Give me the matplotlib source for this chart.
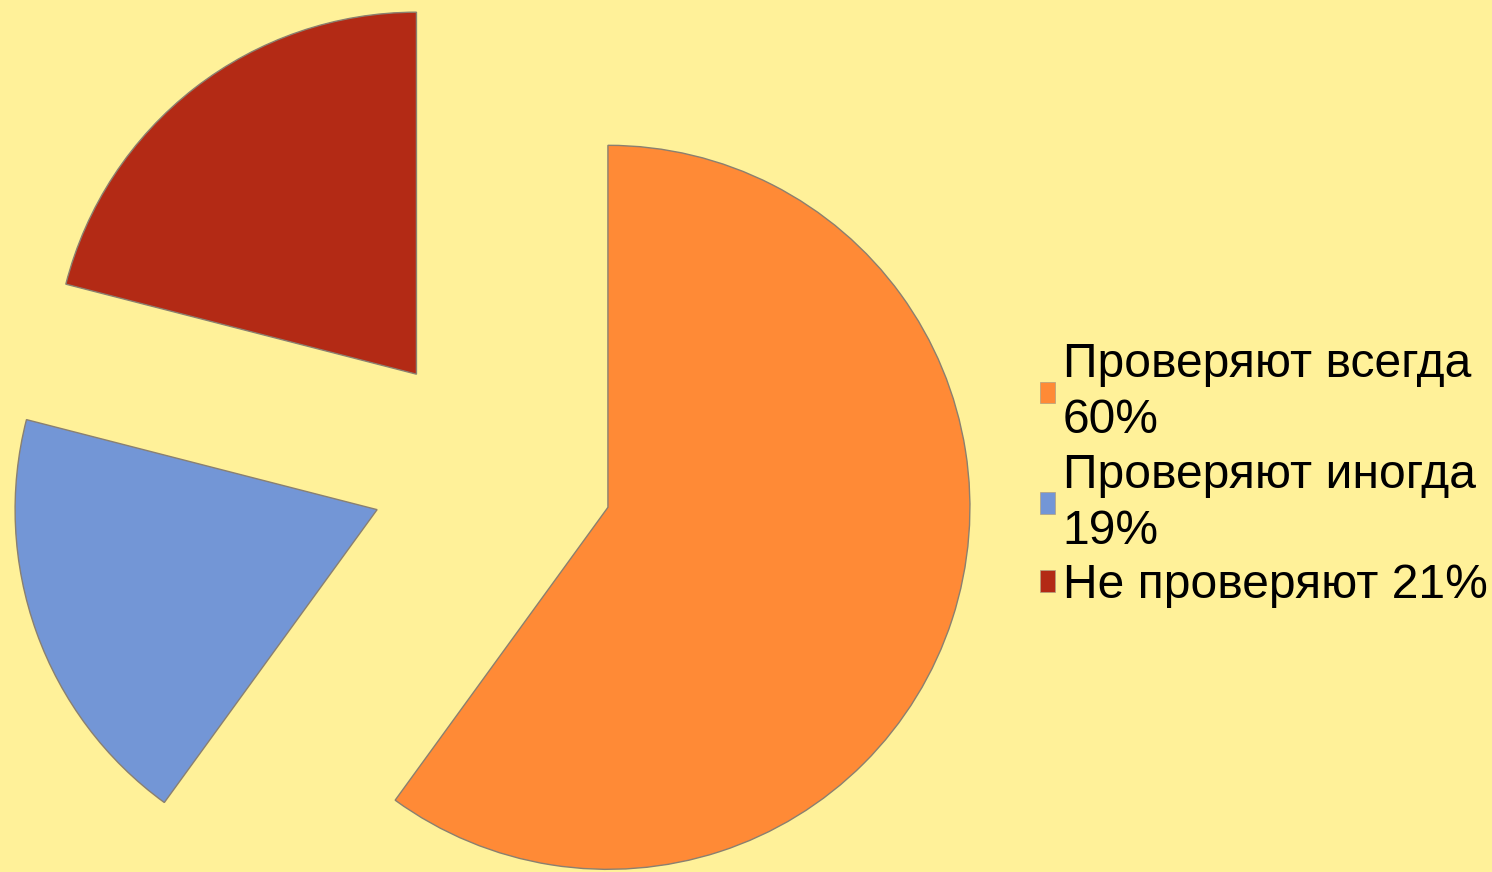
import matplotlib
matplotlib.use("Agg")
import matplotlib.pyplot as plt

labels = ["Проверяют всегда\n60%", "Проверяют иногда\n19%", "Не проверяют 21%"]
values = [60, 19, 21]
colors = ["#FF8A36", "#7396D6", "#B32A15"]
explode_px = [124, 120, 120]

W, H = 1492, 872
fig = plt.figure(figsize=(W / 100, H / 100), dpi=100)
bg = "#FFF199"
fig.patch.set_facecolor(bg)
ax = fig.add_axes([0, 0, 1, 1])
ax.set_facecolor(bg)

wedges, _ = ax.pie(values, colors=colors, explode=explode_px, startangle=90,
                   counterclock=False, radius=362, center=(490, 403),
                   wedgeprops=dict(edgecolor="#8a8070", linewidth=1.0))
ax.set_xlim(0, W)
ax.set_ylim(0, H)
ax.set_aspect("equal")
ax.axis("off")

plt.rcParams['font.family'] = ['Liberation Sans', 'DejaVu Sans']
leg = ax.legend(wedges, labels, loc="center left", bbox_to_anchor=(1040 / W, 1 - 475 / H),
                frameon=False, handlelength=0.32, handleheight=0.32,
                handletextpad=0.15, labelspacing=0.2, borderpad=0, borderaxespad=0,
                prop={'family': ['Liberation Sans', 'DejaVu Sans'], 'size': 34.6})
for t in leg.get_texts():
    t.set_linespacing(1.32)
for h in leg.legend_handles:
    h.set_edgecolor("#b0a080")
    h.set_linewidth(0.5)

fig.savefig("out.png", dpi=100, facecolor=bg)
